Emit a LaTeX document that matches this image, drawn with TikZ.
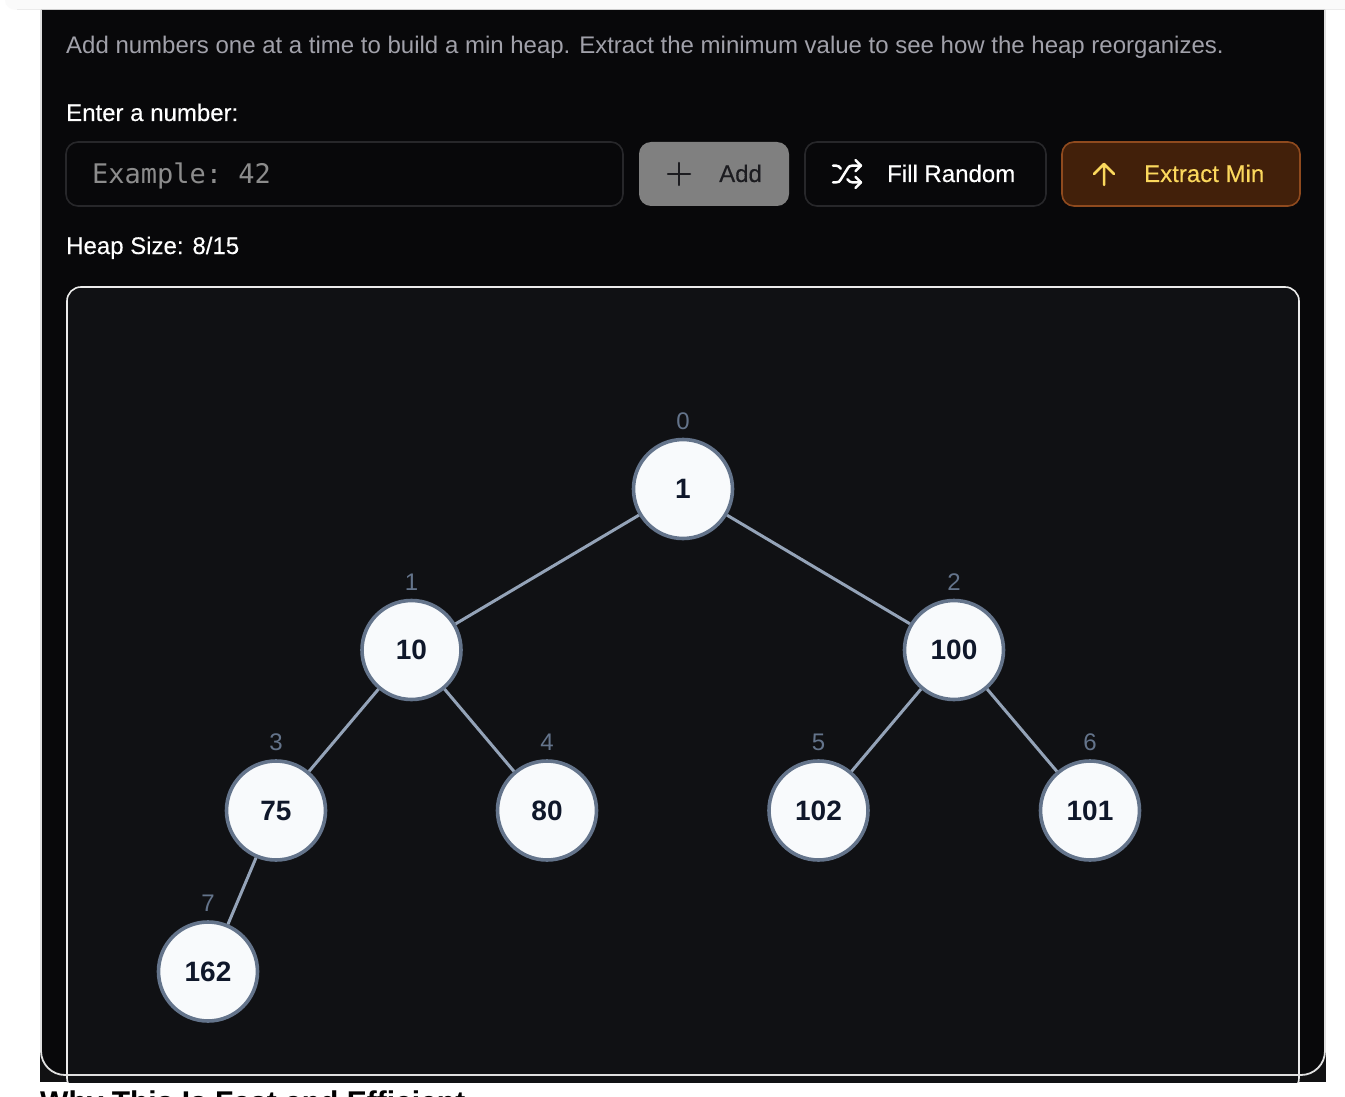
\documentclass[tikz,border=0pt]{standalone}
\usepackage{fontspec}
\setmainfont{Liberation Sans}
\setmonofont{DejaVu Sans Mono}
\newfontfamily\medfont[FakeBold=0.25]{Liberation Sans}
\definecolor{panel}{HTML}{08080A}
\definecolor{under}{HTML}{111113}
\definecolor{heapfill}{HTML}{101114}
\definecolor{muted}{HTML}{A1A1AA}
\definecolor{edgeline}{HTML}{27272A}
\definecolor{ringc}{HTML}{64748B}
\definecolor{linkc}{HTML}{94A3B8}
\definecolor{nodefill}{HTML}{F8FAFC}
\definecolor{nodeink}{HTML}{0F172A}
\definecolor{amberfill}{HTML}{42200A}
\definecolor{amberline}{HTML}{8F4A1E}
\definecolor{amberink}{HTML}{FBD85D}
\definecolor{addink}{HTML}{1C1C20}
\tikzset{
  x=1pt,y=-1pt,
  heapnode/.style={circle,draw=ringc,line width=3.6pt,fill=nodefill,minimum size=99pt,inner sep=0pt,
    text=nodeink,font=\bfseries\fontsize{28}{28}\selectfont},
  link/.style={draw=linkc,line width=3pt},
  idx/.style={text=ringc,font=\fontsize{24}{24}\selectfont,inner sep=0pt,anchor=base},
  txt/.style={inner sep=0pt,anchor=base west},
  btn/.style={rounded corners=12pt,line width=1.6pt},
  iconline/.style={line width=2.5pt,line cap=round,line join=round},
}
\begin{document}
\begin{tikzpicture}
\useasboundingbox (0,0) rectangle (1345,1097);
\fill[white] (0,0) rectangle (1345,1097);
% top strip
\fill[black!2] (5,-2) -- (1345,-2) -- (1345,10) -- (17,10) .. controls (10,10) and (5,6) .. (5,0) -- cycle;
\draw[black!8,line width=1pt] (17,10) -- (1345,10);
% panel
\fill[under] (40,10) rectangle (1326,1082);
\fill[panel] (41,10) -- (1325,10) -- (1325,1051) arc[start angle=0,end angle=90,radius=24] -- (65,1075) arc[start angle=90,end angle=180,radius=24] -- cycle;
% heap box
\begin{scope}
\clip (40,280) rectangle (1326,1082);
\draw[fill=heapfill,draw=white!92!black,line width=1.6pt,rounded corners=14pt] (67,287) rectangle (1299,1092);
\end{scope}
\draw[white!88!black,line width=1.8pt] (41,10) -- (41,1051) arc[start angle=180,end angle=90,radius=24] -- (1301,1075) arc[start angle=90,end angle=0,radius=24] -- (1325,10);
% text
\node[txt,text=muted,font=\fontsize{24}{24}\selectfont] (intro) at (66,54) {Add numbers one at a time to build a min heap. Extract the minimum value to see how the heap reorganizes.};
\node[txt,text=white,font=\medfont\fontsize{24}{24}\selectfont] (enter) at (66,121) {Enter a number:};
\node[txt,text=white,font=\medfont\fontsize{24}{24}\selectfont] (size) at (66,254) {Heap Size: 8/15};
% controls
\path[btn,draw=edgeline,fill=panel] (66,142) rectangle (623,206);
\node[txt,text=white!55!black,font=\ttfamily\fontsize{27}{27}\selectfont] (example) at (92,184) {Example: 42};
\path[btn,fill=white!50!black] (639,142) rectangle (789,206);
\draw[iconline,addink] (668,174) -- (690,174) (679,163) -- (679,185);
\node[txt,text=addink,font=\medfont\fontsize{24}{24}\selectfont] (addl) at (719,182) {Add};
\path[btn,draw=edgeline,fill=panel] (805,142) rectangle (1046,206);
\begin{scope}[shift={(830.2,157.2)},x=1.4pt,y=-1.4pt]
\draw[iconline,white] (18,14) -- (22,18) -- (18,22) (18,2) -- (22,6) -- (18,10);
\draw[iconline,white] (2,18) -- (4,18) .. controls (6,18) and (6.6,17.4) .. (7.3,16.3) -- (12.7,7.7) .. controls (13.4,6.6) and (14,6) .. (16,6) -- (22,6);
\draw[iconline,white] (2,6) -- (4,6) .. controls (5.5,6) and (6.8,6.8) .. (7.6,8.2);
\draw[iconline,white] (22,18) -- (16,18) .. controls (14.6,18) and (13.5,17.4) .. (12.7,16.2) -- (12.3,15.7);
\end{scope}
\node[txt,text=white,font=\medfont\fontsize{24}{24}\selectfont] (filll) at (887,182) {Fill Random};
\path[btn,draw=amberline,fill=amberfill] (1062,142) rectangle (1300,206);
\draw[iconline,amberink] (1104,185) -- (1104,164) (1094,174) -- (1104,164) -- (1114,174);
\node[txt,text=amberink,font=\medfont\fontsize{24}{24}\selectfont] (extract) at (1144,182) {Extract Min};
% heap
\node[heapnode] (n0) at (683,489) {1};
\node[heapnode] (n1) at (411.5,650) {10};
\node[heapnode] (n2) at (954,650) {100};
\node[heapnode] (n3) at (276,810.5) {75};
\node[heapnode] (n4) at (547,810.5) {80};
\node[heapnode] (n5) at (818.5,810.5) {102};
\node[heapnode] (n6) at (1090,810.5) {101};
\node[heapnode] (n7) at (208,971.5) {162};
\draw[link] (n0) -- (n1);
\draw[link] (n0) -- (n2);
\draw[link] (n1) -- (n3);
\draw[link] (n1) -- (n4);
\draw[link] (n2) -- (n5);
\draw[link] (n2) -- (n6);
\draw[link] (n3) -- (n7);
\node[idx] (i0) at (683,429) {0};
\node[idx] (i1) at (411.5,590) {1};
\node[idx] (i2) at (954,590) {2};
\node[idx] (i3) at (276,750) {3};
\node[idx] (i4) at (547,750) {4};
\node[idx] (i5) at (818.5,750) {5};
\node[idx] (i6) at (1090,750) {6};
\node[idx] (i7) at (208,911) {7};
% clipped heading
\node[txt,text=black,font=\bfseries\fontsize{30}{30}\selectfont] (why) at (40,1112) {Why This Is Fast and Efficient};
\end{tikzpicture}
\end{document}
